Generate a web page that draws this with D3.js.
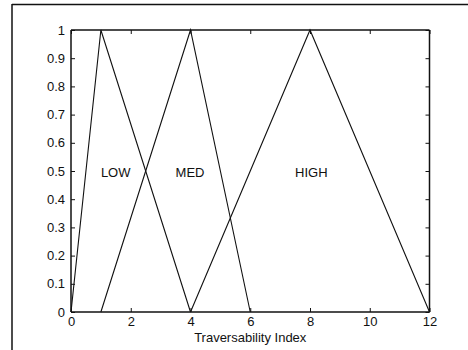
<!DOCTYPE html>
<html>
<head>
<meta charset="utf-8">
<script src="https://cdn.jsdelivr.net/npm/d3@7"></script>
<style>
  body { margin: 0; background: #fff; }
  svg text { font-family: "Liberation Sans", Arial, sans-serif; font-size: 13px; fill: #111; }
</style>
</head>
<body>
<svg id="chart" width="468" height="350"></svg>
<script>
// membership functions (triangles)
var lowX = [0, 1, 4];
var lowY = [0, 1, 0];
var medX = [1, 4, 6];
var medY = [0, 1, 0];
var highX = [4, 8, 12];
var highY = [0, 1, 0];

var labels = ["LOW", "MED", "HIGH"];
var labelX = [1.0, 3.5, 7.5];
var labelY = [0.48, 0.48, 0.48];

var xTicks = [0, 2, 4, 6, 8, 10, 12];
var yTicks = [0, 0.1, 0.2, 0.3, 0.4, 0.5, 0.6, 0.7, 0.8, 0.9, 1];
var xTitle = "Traversability Index";

var svg = d3.select("#chart");

// outer frame of the scanned figure
svg.append("line").attr("x1", 12).attr("y1", 4.5).attr("x2", 468).attr("y2", 4.5)
	.attr("stroke", "#111").attr("stroke-width", 1.5);
svg.append("line").attr("x1", 12).attr("y1", 4).attr("x2", 12).attr("y2", 350)
	.attr("stroke", "#111").attr("stroke-width", 1.5);

var pLeft = 71, pRight = 429.5, pTop = 30, pBottom = 312;

var x = d3.scaleLinear().domain([0, 12]).range([pLeft, pRight]);
var y = d3.scaleLinear().domain([0, 1]).range([pBottom, pTop]);

var fmt = function(d) { return d === 0 || d === 1 ? d3.format("d")(d) : d3.format(".1f")(d); };

// bottom and top axes (ticks inward)
var gx = svg.append("g").attr("transform", "translate(0," + pBottom + ")")
	.call(d3.axisBottom(x).tickValues(xTicks).tickSize(-4).tickPadding(5).tickFormat(d3.format("d")));
var gxt = svg.append("g").attr("transform", "translate(0," + pTop + ")")
	.call(d3.axisTop(x).tickValues(xTicks).tickSize(-4).tickFormat(""));
var gy = svg.append("g").attr("transform", "translate(" + pLeft + ",0)")
	.call(d3.axisLeft(y).tickValues(yTicks).tickSize(-4).tickPadding(6).tickFormat(fmt));
var gyr = svg.append("g").attr("transform", "translate(" + pRight + ",0)")
	.call(d3.axisRight(y).tickValues(yTicks).tickSize(-4).tickFormat(""));

[gx, gxt, gy, gyr].forEach(function(g) {
	g.select(".domain").attr("stroke", "#111").attr("stroke-width", 1.5);
	g.selectAll(".tick line").attr("stroke", "#111");
	g.selectAll("text").attr("font-size", 13).attr("fill", "#111")
		.style("font-family", "'Liberation Sans', Arial, sans-serif");
});
gx.selectAll(".domain").attr("d", "M" + pLeft + ",0H" + pRight);
gxt.selectAll(".domain").attr("d", "M" + pLeft + ",0H" + pRight);
gy.selectAll(".domain").attr("d", "M0," + pBottom + "V" + pTop);
gyr.selectAll(".domain").attr("d", "M0," + pBottom + "V" + pTop);

// x axis title
svg.append("text").attr("x", x(6)).attr("y", 342).attr("text-anchor", "middle").text(xTitle);

// triangles
var line = d3.line()
	.x(function(d) { return x(d[0]); })
	.y(function(d) { return y(d[1]); });

[[lowX, lowY], [medX, medY], [highX, highY]].forEach(function(s) {
	svg.append("path")
		.datum(d3.zip(s[0], s[1]))
		.attr("d", line)
		.attr("fill", "none")
		.attr("stroke", "#111")
		.attr("stroke-width", 1.1);
});

// labels
svg.selectAll("text.lab")
	.data(labels)
	.enter()
	.append("text")
	.attr("class", "lab")
	.attr("x", function(d, i) { return x(labelX[i]); })
	.attr("y", function(d, i) { return y(labelY[i]); })
	.text(function(d) { return d; });
</script>
</body>
</html>
